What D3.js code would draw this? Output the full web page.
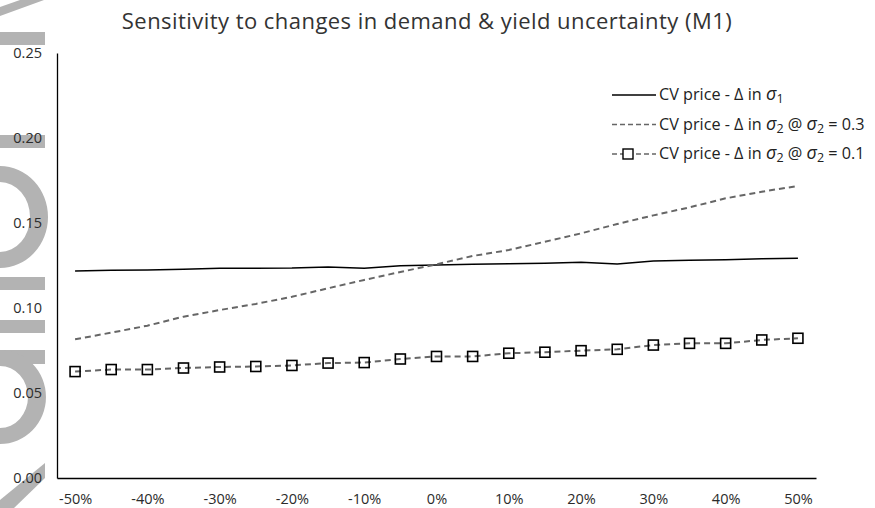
<!DOCTYPE html>
<html>
<head>
<meta charset="utf-8">
<script src="https://cdn.jsdelivr.net/npm/d3@7"></script>
<style>
  body { margin: 0; background: #fff; }
  text { font-family: "Open Sans", "Noto Sans", sans-serif; }
</style>
</head>
<body>
<div id="chart"></div>
<script>
// categories (% change) and tick labels
const categories = [-50, -45, -40, -35, -30, -25, -20, -15, -10, -5, 0, 5, 10, 15, 20, 25, 30, 35, 40, 45, 50];
const xTickValues = [-50, -40, -30, -20, -10, 0, 10, 20, 30, 40, 50];
const xTickLabels = ["-50%", "-40%", "-30%", "-20%", "-10%", "0%", "10%", "20%", "30%", "40%", "50%"];
const yTickValues = [0, 0.05, 0.10, 0.15, 0.20, 0.25];

// series values
const cvSigma1 = [0.1218, 0.1222, 0.1224, 0.1228, 0.1234, 0.1234, 0.1235, 0.1241, 0.1234, 0.1249, 0.1253,
                  0.1257, 0.1261, 0.1263, 0.1269, 0.1259, 0.1276, 0.1281, 0.1284, 0.1290, 0.1292];
const cvSigma2High = [0.0816, 0.0855, 0.0896, 0.0949, 0.0988, 0.1024, 0.1066, 0.1116, 0.1165, 0.1212, 0.1257,
                      0.1306, 0.1341, 0.1390, 0.1439, 0.1494, 0.1545, 0.1592, 0.1645, 0.1684, 0.1718];
const cvSigma2Low = [0.0626, 0.0638, 0.0638, 0.0647, 0.0653, 0.0656, 0.0662, 0.0676, 0.0679, 0.0700, 0.0715,
                     0.0715, 0.0734, 0.0740, 0.0749, 0.0757, 0.0782, 0.0792, 0.0792, 0.0812, 0.0822];

const title = "Sensitivity to changes in demand & yield uncertainty (M1)";

const width = 875, height = 508;

const svg = d3.select("#chart")
  .append("svg")
  .attr("width", width)
  .attr("height", height);

// faint grey watermark strip on the left edge
const wm = svg.append("g").attr("fill", "#b3b3b3");
wm.append("path").attr("d", "M20,0 L44,0 L0,16 L0,7 Z");
wm.append("rect").attr("x", 0).attr("y", 32).attr("width", 45).attr("height", 13);
wm.append("rect").attr("x", 0).attr("y", 135).attr("width", 45).attr("height", 13);
wm.append("path").attr("d", "M0,166 A48,51 0 0 1 0,268 L0,252 A30,35 0 0 0 0,182 Z");
wm.append("rect").attr("x", 0).attr("y", 277).attr("width", 45).attr("height", 13);
wm.append("rect").attr("x", 0).attr("y", 320).attr("width", 45).attr("height", 13);
wm.append("rect").attr("x", 0).attr("y", 350).attr("width", 45).attr("height", 14);
wm.append("path").attr("d", "M0,350 A46,47 0 0 1 0,444 L0,428 A28,31 0 0 0 0,366 Z");
wm.append("path").attr("d", "M45,463 L45,478 L14,508 L0,508 L0,500 Z");

const x = d3.scalePoint()
  .domain(categories)
  .range([57, 816])
  .padding(0.5);

const y = d3.scaleLinear()
  .domain([0, 0.25])
  .range([478, 53]);

// title
svg.append("text")
  .attr("x", 427)
  .attr("y", 29)
  .attr("text-anchor", "middle")
  .attr("font-size", 22)
  .attr("letter-spacing", 0.45)
  .attr("fill", "#333")
  .text(title);

// axes
const xAxis = svg.append("g")
  .attr("transform", `translate(0,${y(0)})`)
  .call(d3.axisBottom(x)
    .tickValues(xTickValues)
    .tickSize(0)
    .tickPadding(16)
    .tickFormat((d, i) => xTickLabels[i]));

const yAxis = svg.append("g")
  .attr("transform", "translate(57,0)")
  .call(d3.axisLeft(y)
    .tickValues(yTickValues)
    .tickSize(0)
    .tickPadding(15)
    .tickFormat(d3.format(".2f")));

[xAxis, yAxis].forEach(g => {
  g.select(".domain").attr("stroke", "#000").attr("stroke-width", 1.3);
  g.selectAll("text")
    .attr("font-size", 14.5)
    .attr("font-family", "'Open Sans', sans-serif")
    .attr("fill", "#2b2b2b");
});

const rows = categories.map((c, i) => ({
  c: c, s1: cvSigma1[i], hi: cvSigma2High[i], lo: cvSigma2Low[i]
}));

const lineOf = key => d3.line()
  .x(d => x(d.c))
  .y(d => y(d[key]));

svg.append("path")
  .datum(rows)
  .attr("fill", "none")
  .attr("stroke", "#000")
  .attr("stroke-width", 1.5)
  .attr("d", lineOf("s1"));

svg.append("path")
  .datum(rows)
  .attr("fill", "none")
  .attr("stroke", "#666")
  .attr("stroke-width", 2)
  .attr("stroke-dasharray", "6,4")
  .attr("d", lineOf("hi"));

svg.append("path")
  .datum(rows)
  .attr("fill", "none")
  .attr("stroke", "#666")
  .attr("stroke-width", 2)
  .attr("stroke-dasharray", "6,4")
  .attr("d", lineOf("lo"));

svg.selectAll(".marker")
  .data(rows)
  .join("rect")
  .attr("class", "marker")
  .attr("x", d => x(d.c) - 5)
  .attr("y", d => y(d.lo) - 5)
  .attr("width", 10)
  .attr("height", 10)
  .attr("fill", "none")
  .attr("stroke", "#000")
  .attr("stroke-width", 1.6);

// legend
const legendItems = [
  {sub1: "1", tail: null, dash: null, color: "#000", width: 1.3, marker: false},
  {sub1: "2", tail: "0.3", dash: "5,3", color: "#666", width: 1.5, marker: false},
  {sub1: "2", tail: "0.1", dash: "5,3", color: "#666", width: 1.5, marker: true}
];

const legend = svg.append("g").attr("transform", "translate(612,95)");

legendItems.forEach((item, i) => {
  const g = legend.append("g").attr("transform", `translate(0,${i * 29.5})`);
  g.append("line")
    .attr("x1", 0).attr("x2", 44)
    .attr("y1", 0).attr("y2", 0)
    .attr("stroke", item.color)
    .attr("stroke-width", item.width)
    .attr("stroke-dasharray", item.dash);
  if (item.marker) {
    g.append("rect")
      .attr("x", 11).attr("y", -5)
      .attr("width", 10).attr("height", 10)
      .attr("fill", "#fff")
      .attr("stroke", "#000")
      .attr("stroke-width", 1.4);
  }
  const t = g.append("text")
    .attr("x", 47)
    .attr("y", 5)
    .attr("font-size", 16.2)
    .attr("fill", "#222");
  t.append("tspan").text("CV price - \u0394 in ");
  t.append("tspan").attr("font-style", "italic").attr("font-size", 18).text("\u03c3");
  t.append("tspan").attr("font-size", 12.5).attr("dy", 3).text(item.sub1);
  if (item.tail) {
    t.append("tspan").attr("dy", -3).text(" @ ");
    t.append("tspan").attr("font-style", "italic").attr("font-size", 18).text("\u03c3");
    t.append("tspan").attr("font-size", 12.5).attr("dy", 3).text("2");
    t.append("tspan").attr("dy", -3).text(" = " + item.tail);
  }
});
</script>
</body>
</html>
